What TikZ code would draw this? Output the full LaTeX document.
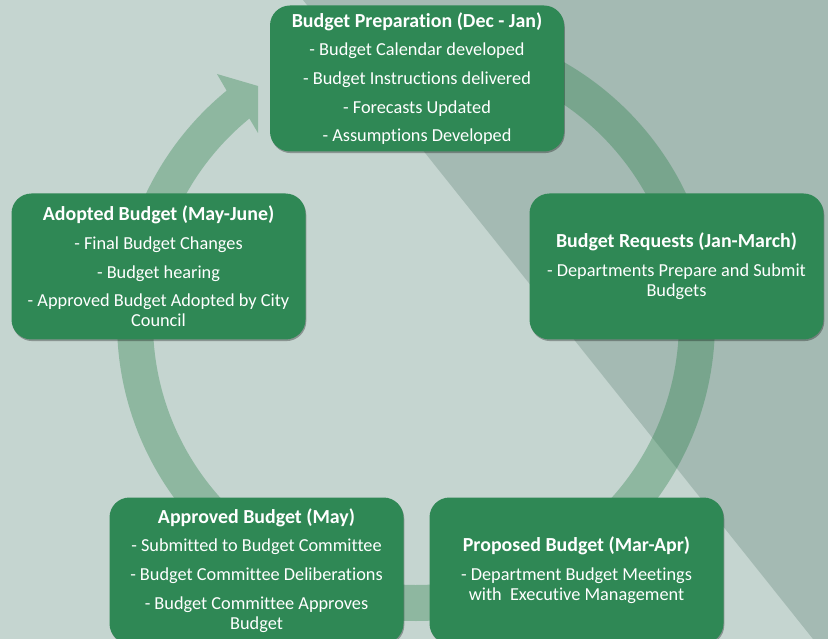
\documentclass[tikz,border=0pt]{standalone}
\usepackage{fontspec}
\setmainfont{Carlito}[Ligatures=NoCommon]
\usetikzlibrary{shadows}
\definecolor{bglight}{RGB}{197,213,208}
\definecolor{bgdark}{RGB}{164,186,179}
\definecolor{ringgreen}{RGB}{40,128,72}
\definecolor{boxgreen}{RGB}{47,136,85}
\tikzset{
  stagebox/.style={rectangle, rounded corners=20pt, minimum width=294pt,
    minimum height=146pt, inner sep=0pt, fill=boxgreen, text=white,
    align=center, font=\fontsize{18.3}{20}\selectfont,
    drop shadow={shadow xshift=0.8pt, shadow yshift=-1.6pt, opacity=0.3, fill=black}},
  ringband/.style={fill=ringgreen, fill opacity=0.35}
}
\newcommand{\stagegap}{\\[8.7pt]}
\newcommand{\stagetitle}[1]{{\fontsize{19.9}{20}\selectfont\bfseries #1}}
\begin{document}
\begin{tikzpicture}[x=1pt,y=-1pt]
\useasboundingbox (0,0) rectangle (828,639);
\clip (0,0) rectangle (828,639);
% background
\fill[bglight] (0,0) rectangle (828,639);
\fill[bgdark] (303,0) -- (828,0) -- (828,639) -- (813,639) -- cycle;
% circular arrow
\fill[ringband] (416,23) arc[start angle=-90, end angle=230.7, radius=299]
  -- (217,74) -- (258,86) -- (258,133) -- (249.4,118.5)
  arc[start angle=230.7, end angle=-90, radius=263] -- cycle;
% stages
\node[stagebox] (prep) at (417,78.5)
  {\stagetitle{Budget Preparation (Dec - Jan)}\stagegap
   - Budget Calendar developed\stagegap
   - Budget Instructions delivered\stagegap
   - Forecasts Updated\stagegap
   - Assumptions Developed};
\node[stagebox] (req) at (676.5,266.5)
  {\stagetitle{Budget Requests (Jan-March)}\stagegap
   - Departments Prepare and Submit\\
   Budgets};
\node[stagebox] (prop) at (576.5,570.5)
  {\stagetitle{Proposed Budget (Mar-Apr)}\stagegap
   - Department Budget Meetings\\
   with\ \ Executive Management};
\node[stagebox] (appr) at (256.5,570.5)
  {\stagetitle{Approved Budget (May)}\stagegap
   - Submitted to Budget Committee\stagegap
   - Budget Committee Deliberations\stagegap
   - Budget Committee Approves\\
   Budget};
\node[stagebox] (adopt) at (158.5,266.5)
  {\stagetitle{Adopted Budget (May-June)}\stagegap
   - Final Budget Changes\stagegap
   - Budget hearing\stagegap
   - Approved Budget Adopted by City\\
   Council};
\end{tikzpicture}
\end{document}
